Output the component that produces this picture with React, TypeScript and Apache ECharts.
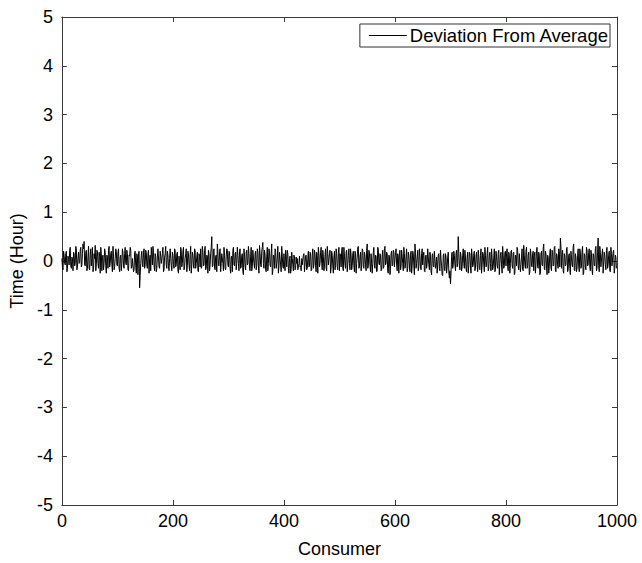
import React, { useEffect, useRef } from "react";
import * as echarts from "echarts";

const SERIES_NAME = "Deviation From Average";
const X_TICKS = [0, 200, 400, 600, 800, 1000];
const Y_TICKS = [-5, -4, -3, -2, -1, 0, 1, 2, 3, 4, 5];
// deviation values in hundredths of an hour, consumers 0, 2, 4, ... 998
const DEV_EVEN = [
  5,-18,12,-8,20,-15,3,22,-10,8,-20,15,-5,25,-12,18,-3,28,-8,35,40,-10,22,-15,30,
  -18,25,5,-22,15,32,-8,20,-15,10,28,-20,12,-5,18,-25,8,22,-12,15,-8,30,-18,5,20,
  -10,25,-22,12,-5,18,-15,28,-8,15,-20,10,22,-12,5,-18,20,-25,8,15,-55,-5,20,-12,25,
  -8,18,-15,22,5,-20,12,30,-10,15,-22,8,25,-15,10,-5,28,-18,15,-8,20,-12,5,25,-20,
  12,-15,22,-8,18,-25,10,28,-12,20,-18,5,25,-10,15,-20,30,-8,12,-15,22,-5,18,-22,10,
  25,-12,18,-8,30,-15,10,22,-20,15,50,-10,25,-18,12,35,-8,20,-22,15,-5,28,-15,10,22,
  -12,18,-25,10,22,-8,15,-18,28,-5,20,-15,12,-22,25,-10,18,-8,30,-15,10,-20,22,-5,15,
  -18,25,-10,32,-8,20,38,-15,12,-22,28,-5,18,-12,35,-20,10,25,-15,8,-25,18,-8,30,-12,
  15,-20,10,22,-15,5,-25,18,-8,12,-18,8,5,-12,10,-10,5,-8,15,-22,12,-15,20,-10,15,
  -18,25,-8,15,-22,10,28,-12,18,-5,22,-20,12,-15,30,-8,15,-25,20,-10,8,-18,25,-12,15,
  -20,10,22,-15,28,-8,18,-22,12,-5,25,-18,15,-10,20,-25,8,30,-12,18,-8,22,-15,10,-20,
  35,-10,18,-22,15,-5,28,-15,10,-20,25,-8,12,-18,22,-12,30,-5,15,-25,10,-15,20,-8,18,
  -12,25,-20,8,15,-18,22,-5,28,-15,10,-22,18,-8,12,-25,20,-10,35,-15,8,-20,25,-12,15,
  -8,18,-22,12,-5,25,-18,10,-28,15,-12,20,-8,-25,12,-15,22,-10,-30,15,-20,8,-12,18,-35,
  -47,10,-15,20,-8,15,-12,50,-10,18,-20,12,-5,22,-15,8,-25,18,-10,25,-12,15,-20,10,-8,
  22,-15,12,-25,18,-8,28,-12,15,-20,10,-5,25,-18,8,-22,20,-10,15,-28,12,-8,30,-15,18,
  -10,25,-20,12,-5,22,-15,18,-25,10,28,-12,15,-22,8,-18,32,-8,20,-15,12,-28,25,-10,15,
  -20,18,-8,28,-15,12,-25,20,-10,35,-18,15,-28,8,-12,25,-20,18,-8,30,-22,12,-15,20,47,
  -15,22,-25,10,-8,28,-18,15,-28,20,-12,35,-20,8,-15,25,-22,18,-10,30,-25,12,-18,22,-8,
  25,-20,15,-28,12,-10,30,-15,47,-22,18,-12,25,-25,10,-18,28,-8,20,-22,15,-10,22,-15,8,
];
// deviation values in hundredths of an hour, consumers 1, 3, 5, ... 999
const DEV_ODD = [
  -12,20,-5,15,-22,10,-8,28,-15,5,18,-10,30,-18,8,-5,22,-12,15,25,-8,18,-20,10,-15,
  12,-10,28,-15,5,-20,22,-5,18,-25,15,8,-18,25,-10,12,-15,30,-5,20,-22,10,-12,25,-8,
  18,-15,8,-20,25,-10,15,-5,22,-18,12,28,-15,5,-22,18,-10,15,-28,20,-30,12,-8,18,-15,
  22,-10,15,-25,12,28,-8,18,-20,10,-15,25,-12,20,-5,15,-22,8,30,-15,12,-20,25,-10,18,
  -8,25,-12,15,-20,10,-18,22,-5,28,-12,15,-22,20,-8,12,-25,18,-10,25,-15,8,-20,15,-12,
  -15,30,-10,22,-18,12,-25,15,-8,28,-12,20,-15,10,-22,18,-10,25,-5,15,-20,12,-18,25,-8,
  20,-15,8,-22,28,-10,18,-5,12,-20,25,-12,15,-28,10,-18,22,-5,15,-20,28,-12,8,-15,20,
  -10,18,-25,15,-12,28,-5,22,-18,10,-20,25,-8,15,-28,12,-15,20,-5,30,-12,18,-22,10,-15,
  -8,22,-12,15,-25,10,-18,5,-20,8,-15,-5,-18,-5,-12,-20,-8,12,-22,10,-18,5,-12,18,-20,
  12,-15,22,-10,18,-25,15,-5,28,-18,10,-12,25,-20,15,-8,22,-15,12,-25,20,-10,15,-18,28,
  15,-12,28,-20,10,-15,22,-8,25,-18,12,-10,20,-22,15,-5,28,-15,10,-20,25,-12,18,-8,22,
  -15,22,-8,15,-25,18,-10,12,-22,28,-5,15,-20,10,-15,25,-8,18,-22,12,-28,15,-10,22,-12,
  18,-8,15,-25,22,-12,10,-20,15,-8,25,-15,12,-22,20,-10,15,-28,18,-5,22,-12,10,-18,25,
  12,-20,10,-15,25,-8,18,-22,12,-10,20,-15,8,-25,15,-20,5,-28,12,-18,15,-25,8,-22,-20,
  -25,18,-8,12,-20,22,-5,15,-18,10,-12,25,-15,8,-22,18,-10,15,-25,12,-8,20,-15,18,-22,
  10,-18,25,-8,15,-22,12,-10,28,-15,18,-20,8,-12,25,-18,10,-15,22,-5,18,-25,12,-10,20,
  15,-12,18,-25,20,-8,15,-28,12,-10,22,-18,15,-8,25,-20,12,-15,28,-10,18,-22,15,-12,20,
  10,-25,22,-12,18,-28,15,-8,25,-15,20,-10,12,-25,18,-15,22,-10,28,-18,15,-8,25,-12,30,
  12,-20,15,-10,25,-22,12,-15,20,-8,28,-18,15,-22,12,-10,25,-15,20,-28,15,-12,28,-10,18,
  -12,22,-18,15,-8,25,-20,18,-10,30,-12,15,-25,18,-8,22,-15,12,-20,28,-10,18,-25,12,-15,
];

const FONT = "Liberation Sans, Arial, sans-serif";

export default function App() {
  const ref = useRef<HTMLDivElement>(null);
  useEffect(() => {
    if (!ref.current) return;
    const chart = echarts.init(ref.current, undefined, { renderer: "svg" });
    const data: number[][] = [];
    DEV_EVEN.forEach((v, i) => {
      data.push([2 * i, v / 100]);
      if (i < DEV_ODD.length) data.push([2 * i + 1, DEV_ODD[i] / 100]);
    });
    const axisColor = "#3a3a3a";
    const xBase = {
      type: "value" as const,
      min: X_TICKS[0],
      max: X_TICKS[X_TICKS.length - 1],
      interval: 200,
      splitLine: { show: false },
      axisLine: { show: true, onZero: false, lineStyle: { color: axisColor, width: 1 } },
      axisTick: { show: true, inside: true, length: 5, lineStyle: { color: axisColor } },
    };
    const yBase = {
      type: "value" as const,
      min: Y_TICKS[0],
      max: Y_TICKS[Y_TICKS.length - 1],
      interval: 1,
      splitLine: { show: false },
      axisLine: { show: true, onZero: false, lineStyle: { color: axisColor, width: 1 } },
      axisTick: { show: true, inside: true, length: 5, lineStyle: { color: axisColor } },
    };
    chart.setOption({
      animation: false,
      backgroundColor: "#ffffff",
      grid: { left: 61, top: 17, right: 25, bottom: 54, containLabel: false },
      legend: {
        show: true,
        data: [{ name: SERIES_NAME, icon: "rect" }],
        right: 32,
        top: 24,
        orient: "horizontal",
        borderColor: "#333",
        borderWidth: 1,
        borderRadius: 0,
        padding: [2, 1, 2, 9],
        itemWidth: 38,
        itemHeight: 1,
        itemGap: 0,
        itemStyle: { color: "#000" },
        textStyle: { fontFamily: FONT, fontSize: 18.5, color: "#000", padding: [0, 0, 0, -2] },
        backgroundColor: "#fff",
      },
      xAxis: [
        {
          ...xBase,
          position: "bottom",
          name: "Consumer",
          nameLocation: "middle",
          nameGap: 35,
          nameTextStyle: { fontFamily: FONT, fontSize: 18, color: "#000" },
          axisLabel: {
            show: true,
            margin: 7,
            fontFamily: FONT,
            fontSize: 18,
            color: "#000",
            formatter: (v: number) => String(v),
          },
        },
        { ...xBase, position: "top", axisLabel: { show: false } },
      ],
      yAxis: [
        {
          ...yBase,
          position: "left",
          name: "Time (Hour)",
          nameLocation: "middle",
          nameGap: 33,
          nameRotate: 90,
          nameTextStyle: { fontFamily: FONT, fontSize: 18, color: "#000" },
          axisLabel: { show: true, margin: 9, fontFamily: FONT, fontSize: 18, color: "#000" },
        },
        { ...yBase, position: "right", axisLabel: { show: false } },
      ],
      series: [
        {
          name: SERIES_NAME,
          type: "line",
          data,
          xAxisIndex: 0,
          yAxisIndex: 0,
          showSymbol: false,
          symbol: "none",
          lineStyle: { color: "#000", width: 1 },
          itemStyle: { color: "#000" },
        },
      ],
    });
    return () => chart.dispose();
  }, []);
  return (
    <div
      ref={ref}
      style={{ position: "fixed", left: 0, top: 0, width: 642, height: 563, background: "#fff" }}
    />
  );
}
